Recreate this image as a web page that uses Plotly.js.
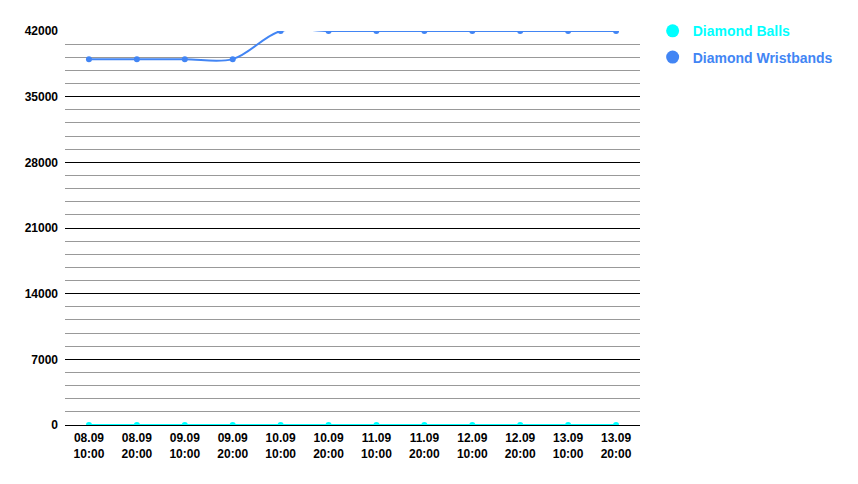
<!DOCTYPE html>
<html>
<head>
<meta charset="utf-8">
<script src="https://cdn.plot.ly/plotly-3.0.1.min.js"></script>
<style>html,body{margin:0;padding:0;background:#fff;}#chart{width:858px;height:484px;}</style>
</head>
<body>
<div id="chart"></div>
<script>
const categories = ["08.09<br>10:00","08.09<br>20:00","09.09<br>10:00","09.09<br>20:00","10.09<br>10:00","10.09<br>20:00","11.09<br>10:00","11.09<br>20:00","12.09<br>10:00","12.09<br>20:00","13.09<br>10:00","13.09<br>20:00"];
const diamondBalls = [0,0,0,0,0,0,0,0,0,0,0,0];
const diamondWristbands = [39000,39000,39000,39000,42000,42000,42000,42000,42000,42000,42000,42000];
const seriesNames = ["Diamond Balls","Diamond Wristbands"];
const seriesColors = ["#00FFFF","#4285F4"];
const seriesValues = [diamondBalls, diamondWristbands];

const traces = [];
seriesValues.forEach((vals, i) => {
  traces.push({
    x: categories, y: vals, type: 'scatter', mode: 'lines+markers',
    line: {color: seriesColors[i], width: 2, shape: 'spline', smoothing: 1},
    marker: {color: seriesColors[i], size: 6},
    showlegend: false, cliponaxis: true, hoverinfo: 'skip'
  });
});
seriesValues.forEach((vals, i) => {
  traces.push({
    x: [null], y: [null], type: 'scatter', mode: 'markers',
    marker: {color: seriesColors[i], size: 13},
    legendgroup: 'g' + i,
    name: '<span style="color:' + seriesColors[i] + '">' + seriesNames[i] + '</span>',
    showlegend: true
  });
});

const layout = {
  width: 858, height: 484,
  margin: {l: 65, r: 218, t: 31, b: 59},
  paper_bgcolor: '#ffffff', plot_bgcolor: '#ffffff',
  font: {family: 'Liberation Sans, Arial, sans-serif', size: 12, color: '#000'},
  showlegend: true,
  legend: {x: 1.022, xanchor: 'left', y: 1.04, yanchor: 'top', traceorder: 'grouped',
           font: {size: 14, weight: 'bold'}, itemwidth: 30, tracegroupgap: 5},
  xaxis: {
    type: 'category', range: [-0.5, 11.5], showgrid: false, zeroline: false,
    showline: false, ticks: '', tickfont: {size: 12, weight: 'bold', color: '#000'},
    ticklabelstandoff: 4
  },
  yaxis: {
    range: [0, 42000], dtick: 7000, tick0: 0, tickformat: 'd', showgrid: true, gridcolor: '#000', gridwidth: 1,
    zeroline: true, zerolinecolor: '#000', zerolinewidth: 1,
    ticks: '', tickfont: {size: 12, weight: 'bold', color: '#000'}, ticklabelstandoff: 6,
    minor: {dtick: 1400, tick0: 0, showgrid: true, gridcolor: '#999', gridwidth: 1}
  }
};
Plotly.newPlot('chart', traces, layout, {displayModeBar: false, staticPlot: true});
</script>
</body>
</html>
